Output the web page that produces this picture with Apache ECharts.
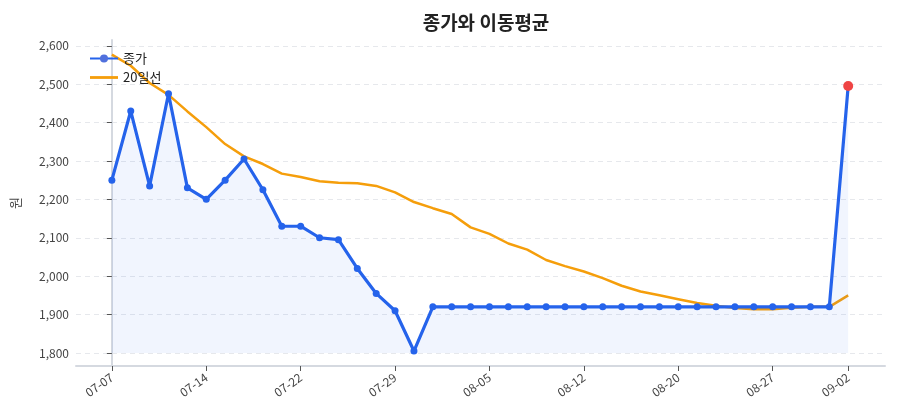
<!DOCTYPE html>
<html>
<head>
<meta charset="utf-8">
<script src="https://cdn.jsdelivr.net/npm/echarts@6/dist/echarts.min.js"></script>
<style>
  html, body { margin: 0; padding: 0; background: #fff; }
  #chart { width: 900px; height: 420px; }
</style>
</head>
<body>
<div id="chart"></div>
<script>
// 거래일 (2025)
var dates = [
    '07-07', '07-08', '07-09', '07-10', '07-11',
    '07-14', '07-15', '07-16', '07-18', '07-21',
    '07-22', '07-23', '07-24', '07-25', '07-28',
    '07-29', '07-30', '07-31', '08-01', '08-04',
    '08-05', '08-06', '08-07', '08-08', '08-11',
    '08-12', '08-13', '08-14', '08-18', '08-19',
    '08-20', '08-21', '08-22', '08-25', '08-26',
    '08-27', '08-28', '08-29', '09-01', '09-02'
];
var closePrice = [
    2250, 2430, 2235, 2475, 2230, 2200, 2250, 2305, 2225, 2130,
    2130, 2100, 2095, 2020, 1955, 1910, 1805, 1920, 1920, 1920,
    1920, 1920, 1920, 1920, 1920, 1920, 1920, 1920, 1920, 1920,
    1920, 1920, 1920, 1920, 1920, 1920, 1920, 1920, 1920, 2495
];
var ma20 = [
    2577, 2548, 2503, 2472, 2429, 2388, 2344, 2312, 2292, 2267,
    2258, 2247, 2243, 2242, 2235, 2218, 2193, 2177, 2162, 2127,
    2110, 2085, 2069, 2042, 2026, 2012, 1995, 1975, 1960, 1950,
    1940, 1930, 1923, 1917, 1914, 1914, 1918, 1920, 1920, 1950
];
var xTicks = [0, 5, 10, 15, 20, 25, 30, 35, 39];
var yTicks = [1800, 1900, 2000, 2100, 2200, 2300, 2400, 2500, 2600];

var fontFamily = '"Noto Sans CJK KR", "Noto Sans", sans-serif';

var closeData = closePrice.map(function (v, i) { return [i, v]; });
var maData = ma20.map(function (v, i) { return [i, v]; });
var lastIdx = closePrice.length - 1;

var option = {
    textStyle: { fontFamily: fontFamily },
    title: {
        text: '종가와 이동평균',
        left: 481,
        textAlign: 'center',
        top: 8,
        textStyle: { fontSize: 19, fontWeight: 'bold', color: '#222', fontFamily: fontFamily }
    },
    legend: {
        orient: 'vertical',
        left: 84,
        top: 47,
        itemGap: 6,
        itemWidth: 28,
        itemHeight: 10,
        textStyle: { fontSize: 13, color: '#222', fontFamily: fontFamily },
        data: [
            { name: '종가' },
            { name: '20일선', icon: 'path://M0,0 L30,0 L30,3 L0,3 Z' }
        ]
    },
    grid: { left: 76, right: 15, top: 40, bottom: 54 },
    xAxis: {
        type: 'value',
        min: -1.9,
        max: 40.95,
        axisLine: { show: true, lineStyle: { color: '#d5d9e0', width: 2 } },
        axisTick: { show: true, customValues: xTicks, length: 5, lineStyle: { color: '#555' } },
        axisLabel: {
            customValues: xTicks,
            rotate: 35,
            fontSize: 12,
            color: '#444',
            margin: 10,
            formatter: function (v) { return dates[Math.round(v)] || ''; }
        },
        splitLine: { show: false }
    },
    yAxis: {
        type: 'value',
        min: 1766,
        max: 2615,
        name: '원',
        nameLocation: 'middle',
        nameGap: 54,
        nameTextStyle: { fontSize: 13, color: '#444' },
        axisLine: { show: true, lineStyle: { color: '#d5d9e0', width: 2 } },
        axisTick: { show: true, customValues: yTicks, length: 5, lineStyle: { color: '#555' } },
        axisLabel: {
            customValues: yTicks,
            fontSize: 12,
            color: '#444',
            margin: 7,
            formatter: function (v) { return v.toLocaleString('en-US'); }
        },
        splitLine: { show: true, lineStyle: { color: '#e6e8ec', type: [5, 4] } }
    },
    series: [
        {
            name: '종가',
            type: 'line',
            data: closeData,
            symbol: 'circle',
            symbolSize: function (v, p) { return p.dataIndex === lastIdx ? 10 : 7; },
            lineStyle: { color: '#2563eb', width: 3.2 },
            itemStyle: {
                color: function (p) { return p.dataIndex === lastIdx ? '#ef4444' : '#2563eb'; }
            },
            areaStyle: { origin: 1800, color: 'rgba(37, 99, 235, 0.09)' },
            z: 3
        },
        {
            name: '20일선',
            type: 'line',
            data: maData,
            symbol: 'none',
            lineStyle: { color: '#f59e0b', width: 2.5 },
            itemStyle: { color: '#f59e0b' },
            z: 2
        }
    ]
};

var myChart = echarts.init(document.getElementById('chart'));
myChart.setOption(option);
</script>
</body>
</html>
